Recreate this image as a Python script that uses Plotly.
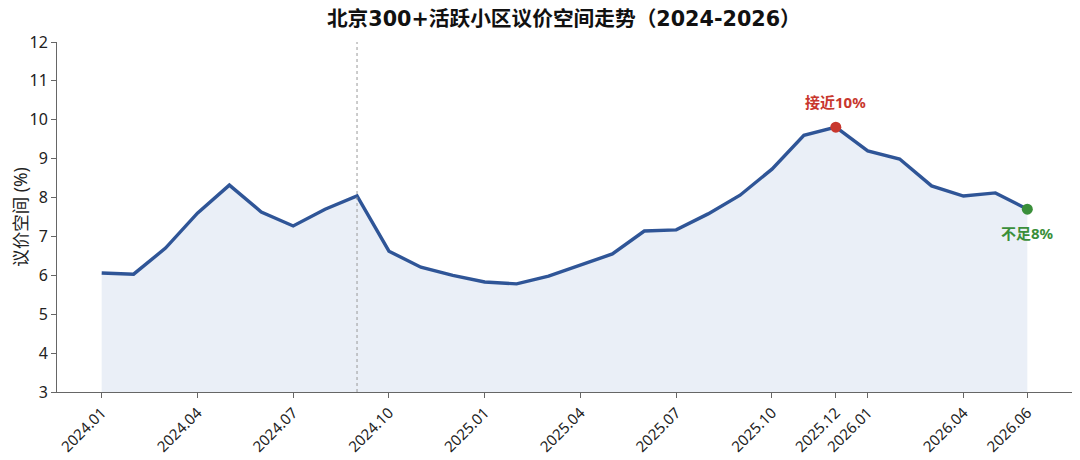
import plotly.graph_objects as go

months = ["2024.01","2024.02","2024.03","2024.04","2024.05","2024.06","2024.07","2024.08","2024.09",
          "2024.10","2024.11","2024.12","2025.01","2025.02","2025.03","2025.04","2025.05","2025.06",
          "2025.07","2025.08","2025.09","2025.10","2025.11","2025.12","2026.01","2026.02","2026.03",
          "2026.04","2026.05","2026.06"]
values = [6.06, 6.03, 6.70, 7.60, 8.32, 7.63, 7.27, 7.70, 8.04,
          6.62, 6.21, 6.00, 5.83, 5.78, 5.98, 6.26, 6.55, 7.14,
          7.17, 7.58, 8.06, 8.73, 9.60, 9.81, 9.20, 8.99, 8.30,
          8.04, 8.12, 7.70]
tick_labels = ["2024.01","2024.04","2024.07","2024.10","2025.01","2025.04","2025.07",
               "2025.10","2025.12","2026.01","2026.04","2026.06"]
marker_line_month = "2024.09"
peak_month, peak_label = "2025.12", "接近10%"
end_month, end_label = "2026.06", "不足8%"

idx = list(range(len(months)))
tickvals = [months.index(t) for t in tick_labels]

FONT = "Noto Sans, Noto Sans CJK SC"
TITLE_FONT = "DejaVu Sans, Noto Sans CJK SC"
fig = go.Figure()
fig.add_trace(go.Scatter(x=idx, y=values, mode="lines", fill="tozeroy",
                         fillcolor="rgba(214,224,240,0.5)",
                         line=dict(color="#2F5597", width=3.4), hoverinfo="skip"))
pi = months.index(peak_month)
ei = months.index(end_month)
fig.add_trace(go.Scatter(x=[pi], y=[values[pi]], mode="markers",
                         marker=dict(color="#C8372D", size=11)))
fig.add_trace(go.Scatter(x=[ei], y=[values[ei]], mode="markers",
                         marker=dict(color="#3A8F3A", size=11)))
fig.add_annotation(x=pi, y=values[pi], text=peak_label, showarrow=False, yshift=25,
                   font=dict(family=FONT, size=15, color="#C8372D", weight="bold"))
fig.add_annotation(x=ei, y=values[ei], text=end_label, showarrow=False, yshift=-24,
                   font=dict(family=FONT, size=15, color="#3A8F3A", weight="bold"))
mi = months.index(marker_line_month)
fig.add_shape(type="line", x0=mi, x1=mi, y0=3, y1=12, xref="x", yref="y",
              line=dict(color="#999999", width=1, dash="dot"))

# page body has an 8px margin; figure sized so that it fills the 1080x460 window
fig.update_layout(
    width=1072, height=452, showlegend=False,
    paper_bgcolor="white", plot_bgcolor="white",
    margin=dict(l=49, r=8, t=34, b=68, autoexpand=False),
    font=dict(family=FONT, size=13, color="#222222"),
    title=dict(text="北京300+活跃小区议价空间走势（2024-2026）", x=0.5185, xanchor="center",
               y=0.9757, yanchor="middle", automargin=False,
               font=dict(family=TITLE_FONT, size=20.7, color="#111111", weight="bold")),
)
fig.update_xaxes(range=[-1.4, 30.4], tickmode="array", tickvals=tickvals, ticktext=tick_labels,
                 tickangle=-45, showgrid=False, zeroline=False, showline=True, automargin=False,
                 linecolor="#666666", linewidth=1, ticks="outside", ticklen=5,
                 tickcolor="#666666", tickfont=dict(size=15))
fig.update_yaxes(range=[3, 12], dtick=1, showgrid=False, zeroline=False, showline=True,
                 automargin=False,
                 linecolor="#666666", linewidth=1, ticks="outside", ticklen=5,
                 tickcolor="#666666", tickfont=dict(size=16),
                 title=dict(text="议价空间 (%)", font=dict(size=17.5), standoff=6))
fig.write_html("out.html")
